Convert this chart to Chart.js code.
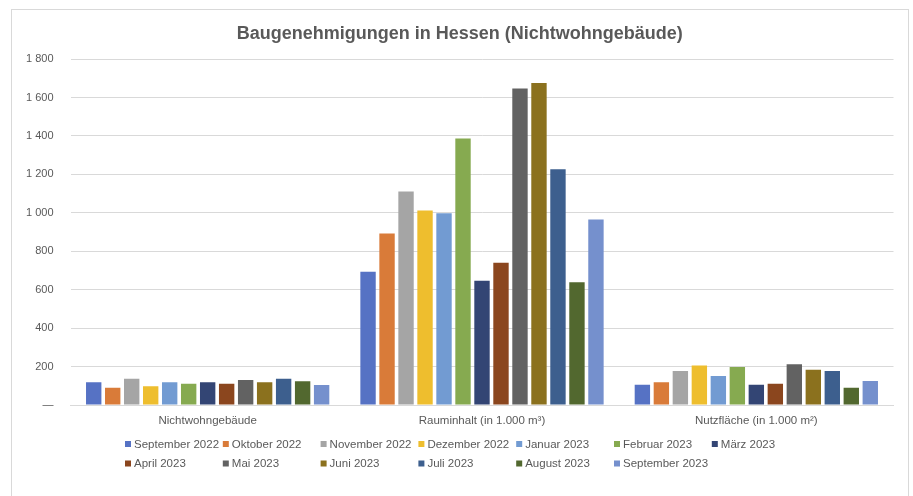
<!DOCTYPE html>
<html>
<head>
<meta charset="utf-8">
<script src="https://cdn.jsdelivr.net/npm/chart.js@4/dist/chart.umd.min.js"></script>
<style>
  html, body { margin: 0; padding: 0; background: #ffffff; }
  #wrap { position: relative; width: 913px; height: 496px; }
</style>
</head>
<body>
<div id="wrap"><canvas id="c" width="913" height="496"></canvas></div>
<script>
// ---- data ----
const categories = ['Nichtwohngebäude', 'Rauminhalt (in 1.000 m³)', 'Nutzfläche (in 1.000 m²)'];
const months = ['September 2022', 'Oktober 2022', 'November 2022', 'Dezember 2022', 'Januar 2023',
  'Februar 2023', 'März 2023', 'April 2023', 'Mai 2023', 'Juni 2023', 'Juli 2023', 'August 2023', 'September 2023'];
const nichtwohngebaeude = [118, 90, 137, 97, 118, 111, 118, 111, 130, 118, 137, 123, 104];
const rauminhalt = [693, 892, 1111, 1012, 998, 1387, 646, 740, 1647, 1675, 1227, 639, 965];
const nutzflaeche = [106, 118, 177, 205, 151, 198, 106, 111, 212, 184, 177, 90, 125];
const yTicks = [0, 200, 400, 600, 800, 1000, 1200, 1400, 1600, 1800];
const colors = ['#5672c4', '#d97b39', '#a5a5a5', '#eebe2e', '#729bd2', '#86aa50', '#334574',
  '#8b461e', '#626262', '#8b711e', '#3d5f8e', '#52682f', '#7590cd'];

const datasets = months.map((m, i) => ({
  label: m,
  data: [nichtwohngebaeude[i], rauminhalt[i], nutzflaeche[i]],
  backgroundColor: colors[i],
  borderWidth: 0,
  categoryPercentage: 0.9,
  barPercentage: 0.81
}));

const FONT = '"Liberation Sans", Arial, sans-serif';
const TXT = '#595959';

const frame = {
  id: 'frame',
  beforeDraw(chart) {
    const ctx = chart.ctx;
    ctx.save();
    ctx.fillStyle = '#ffffff';
    ctx.fillRect(0, 0, chart.width, chart.height);
    ctx.strokeStyle = '#d9d9d9';
    ctx.lineWidth = 1;
    ctx.strokeRect(11.5, 9.5, 897, 500);
    ctx.restore();
  }
};

const gridLegend = {
  id: 'gridLegend',
  afterDraw(chart) {
    const ctx = chart.ctx;
    ctx.save();
    ctx.font = '11.5px ' + FONT;
    ctx.textBaseline = 'middle';
    ctx.textAlign = 'left';
    const x0 = 125, pitch = 97.8, rows = [444, 463.5], perRow = 7;
    chart.data.datasets.forEach((ds, i) => {
      const r = Math.floor(i / perRow), c = i % perRow;
      const x = x0 + c * pitch, y = rows[r];
      ctx.fillStyle = ds.backgroundColor;
      ctx.fillRect(x, y - 3, 6, 6);
      ctx.fillStyle = TXT;
      ctx.fillText(ds.label, x + 9, y + 0.5);
    });
    ctx.restore();
  }
};

new Chart(document.getElementById('c'), {
  type: 'bar',
  data: { labels: categories, datasets },
  plugins: [frame, gridLegend],
  options: {
    responsive: false,
    animation: false,
    layout: { padding: { left: 26, right: 19.5, top: 0, bottom: 66 } },
    plugins: {
      legend: { display: false },
      tooltip: { enabled: false },
      title: {
        display: true,
        text: 'Baugenehmigungen in Hessen (Nichtwohngebäude)',
        color: TXT,
        font: { family: FONT, size: 18, weight: 'bold' },
        padding: { top: 23.5, bottom: 14 }
      }
    },
    scales: {
      x: {
        grid: { display: false, drawTicks: false },
        border: { display: true, color: '#d9d9d9', width: 1 },
        ticks: { color: TXT, font: { family: FONT, size: 11.5 }, padding: 8.5 },
        afterFit(s) { s.height = 25; }
      },
      y: {
        min: 0, max: 1800,
        afterBuildTicks(s) { s.ticks = yTicks.map(v => ({ value: v })); },
        afterFit(s) { s.width = 44.5; },
        grid: { color: '#d9d9d9', drawTicks: false, lineWidth: 1 },
        border: { display: false },
        ticks: {
          color: TXT,
          font: { family: FONT, size: 11 },
          padding: 17,
          callback: v => v === 0 ? '—' : String(v).replace(/\B(?=(\d{3})+(?!\d))/g, ' ')
        }
      }
    }
  }
});
</script>
</body>
</html>
